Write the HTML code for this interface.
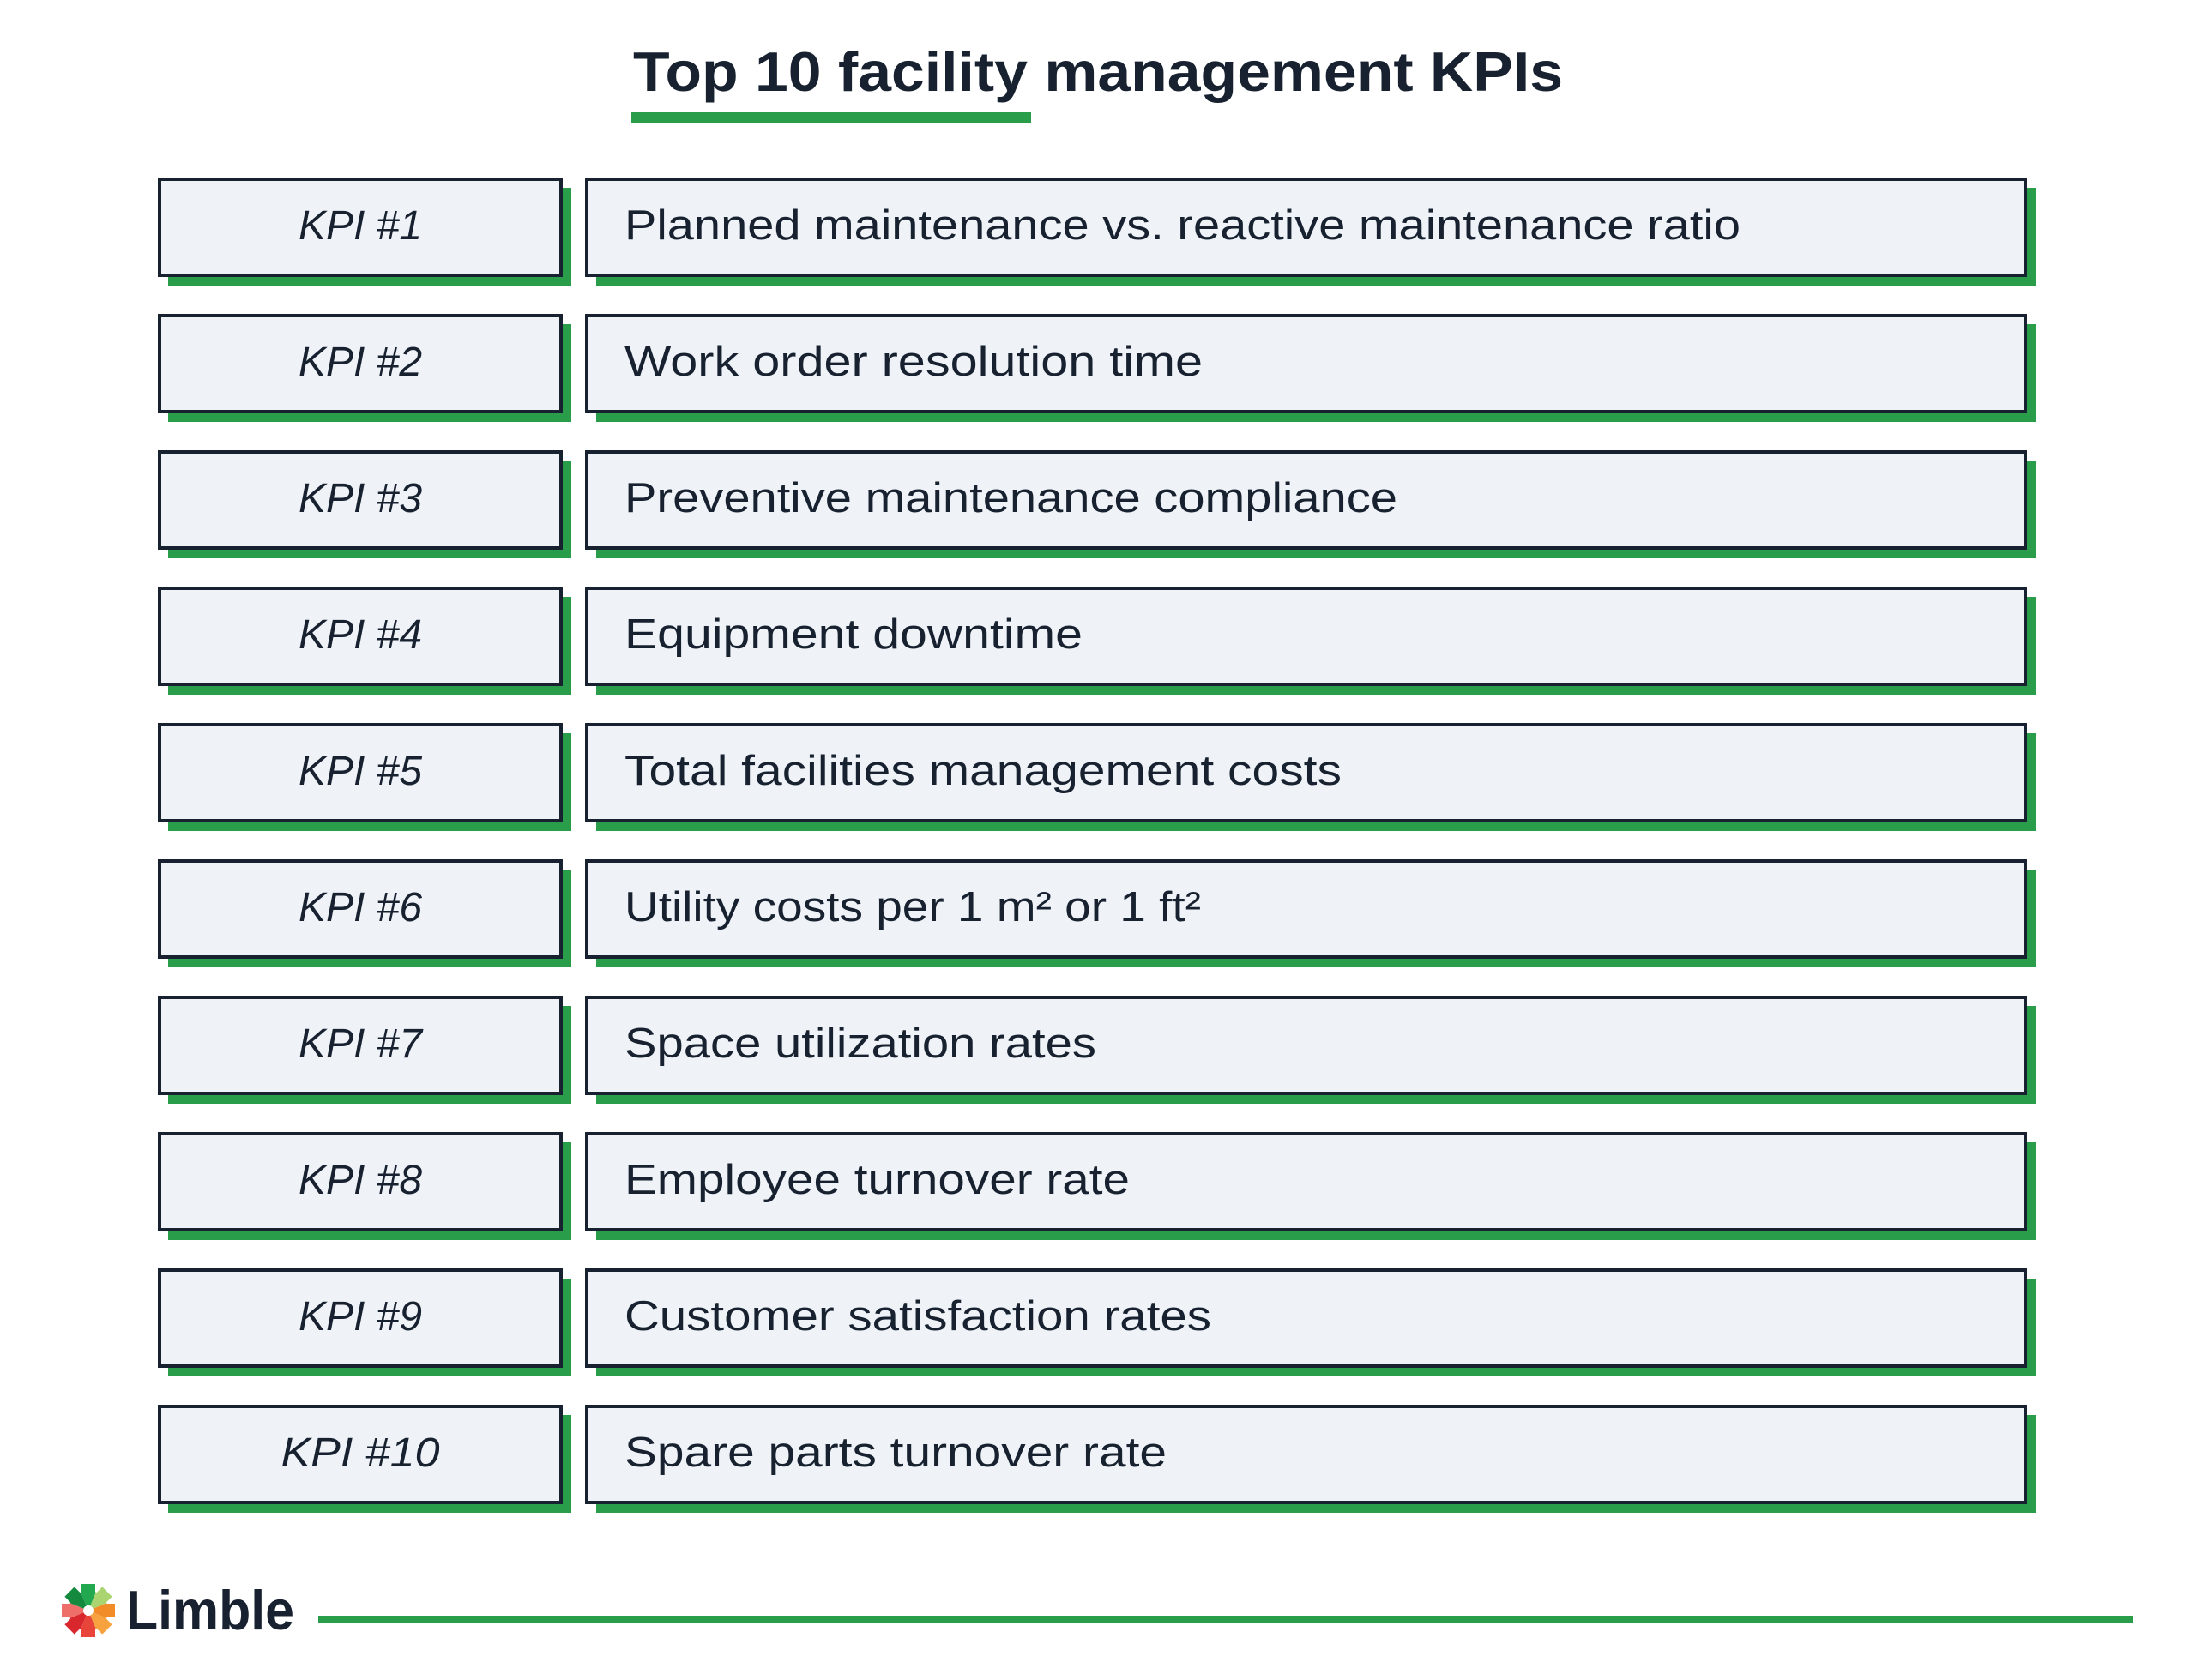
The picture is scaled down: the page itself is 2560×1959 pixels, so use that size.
<!DOCTYPE html>
<html>
<head>
<meta charset="utf-8">
<style>
html,body{margin:0;padding:0;background:#ffffff;}
svg{display:block;}
</style>
</head>
<body>
<svg width="2560" height="1959" viewBox="0 0 2560 1959" xmlns="http://www.w3.org/2000/svg">
<rect x="0" y="0" width="2560" height="1959" fill="#ffffff"/>
<!-- Title -->
<text x="738" y="106" font-family="Liberation Sans, sans-serif" font-weight="bold" font-size="65" fill="#17212f" textLength="1084" lengthAdjust="spacingAndGlyphs">Top 10 facility management KPIs</text>
<rect x="736" y="131" width="466" height="12" fill="#2a9d4b"/>

<g font-family="Liberation Sans, sans-serif" fill="#17212f">
<g transform="translate(0,0)">
<rect x="196" y="219" width="470" height="114" fill="#2a9d4b"/>
<rect x="695" y="219" width="1678" height="114" fill="#2a9d4b"/>
<rect x="186" y="209" width="468" height="112" fill="#eff3f8" stroke="#17212f" stroke-width="4"/>
<rect x="684" y="209" width="1677" height="112" fill="#eff3f8" stroke="#17212f" stroke-width="4"/>
<text x="420" y="279" font-size="48" font-style="italic" text-anchor="middle">KPI #1</text>
<text x="728" y="279" font-size="49" textLength="1301" lengthAdjust="spacingAndGlyphs">Planned maintenance vs. reactive maintenance ratio</text>
</g>
<g transform="translate(0,159)">
<rect x="196" y="219" width="470" height="114" fill="#2a9d4b"/>
<rect x="695" y="219" width="1678" height="114" fill="#2a9d4b"/>
<rect x="186" y="209" width="468" height="112" fill="#eff3f8" stroke="#17212f" stroke-width="4"/>
<rect x="684" y="209" width="1677" height="112" fill="#eff3f8" stroke="#17212f" stroke-width="4"/>
<text x="420" y="279" font-size="48" font-style="italic" text-anchor="middle">KPI #2</text>
<text x="728" y="279" font-size="49" textLength="674" lengthAdjust="spacingAndGlyphs">Work order resolution time</text>
</g>
<g transform="translate(0,318)">
<rect x="196" y="219" width="470" height="114" fill="#2a9d4b"/>
<rect x="695" y="219" width="1678" height="114" fill="#2a9d4b"/>
<rect x="186" y="209" width="468" height="112" fill="#eff3f8" stroke="#17212f" stroke-width="4"/>
<rect x="684" y="209" width="1677" height="112" fill="#eff3f8" stroke="#17212f" stroke-width="4"/>
<text x="420" y="279" font-size="48" font-style="italic" text-anchor="middle">KPI #3</text>
<text x="728" y="279" font-size="49" textLength="901" lengthAdjust="spacingAndGlyphs">Preventive maintenance compliance</text>
</g>
<g transform="translate(0,477)">
<rect x="196" y="219" width="470" height="114" fill="#2a9d4b"/>
<rect x="695" y="219" width="1678" height="114" fill="#2a9d4b"/>
<rect x="186" y="209" width="468" height="112" fill="#eff3f8" stroke="#17212f" stroke-width="4"/>
<rect x="684" y="209" width="1677" height="112" fill="#eff3f8" stroke="#17212f" stroke-width="4"/>
<text x="420" y="279" font-size="48" font-style="italic" text-anchor="middle">KPI #4</text>
<text x="728" y="279" font-size="49" textLength="534" lengthAdjust="spacingAndGlyphs">Equipment downtime</text>
</g>
<g transform="translate(0,636)">
<rect x="196" y="219" width="470" height="114" fill="#2a9d4b"/>
<rect x="695" y="219" width="1678" height="114" fill="#2a9d4b"/>
<rect x="186" y="209" width="468" height="112" fill="#eff3f8" stroke="#17212f" stroke-width="4"/>
<rect x="684" y="209" width="1677" height="112" fill="#eff3f8" stroke="#17212f" stroke-width="4"/>
<text x="420" y="279" font-size="48" font-style="italic" text-anchor="middle">KPI #5</text>
<text x="728" y="279" font-size="49" textLength="836" lengthAdjust="spacingAndGlyphs">Total facilities management costs</text>
</g>
<g transform="translate(0,795)">
<rect x="196" y="219" width="470" height="114" fill="#2a9d4b"/>
<rect x="695" y="219" width="1678" height="114" fill="#2a9d4b"/>
<rect x="186" y="209" width="468" height="112" fill="#eff3f8" stroke="#17212f" stroke-width="4"/>
<rect x="684" y="209" width="1677" height="112" fill="#eff3f8" stroke="#17212f" stroke-width="4"/>
<text x="420" y="279" font-size="48" font-style="italic" text-anchor="middle">KPI #6</text>
<text x="728" y="279" font-size="49" textLength="672" lengthAdjust="spacingAndGlyphs">Utility costs per 1 m² or 1 ft²</text>
</g>
<g transform="translate(0,954)">
<rect x="196" y="219" width="470" height="114" fill="#2a9d4b"/>
<rect x="695" y="219" width="1678" height="114" fill="#2a9d4b"/>
<rect x="186" y="209" width="468" height="112" fill="#eff3f8" stroke="#17212f" stroke-width="4"/>
<rect x="684" y="209" width="1677" height="112" fill="#eff3f8" stroke="#17212f" stroke-width="4"/>
<text x="420" y="279" font-size="48" font-style="italic" text-anchor="middle">KPI #7</text>
<text x="728" y="279" font-size="49" textLength="550" lengthAdjust="spacingAndGlyphs">Space utilization rates</text>
</g>
<g transform="translate(0,1113)">
<rect x="196" y="219" width="470" height="114" fill="#2a9d4b"/>
<rect x="695" y="219" width="1678" height="114" fill="#2a9d4b"/>
<rect x="186" y="209" width="468" height="112" fill="#eff3f8" stroke="#17212f" stroke-width="4"/>
<rect x="684" y="209" width="1677" height="112" fill="#eff3f8" stroke="#17212f" stroke-width="4"/>
<text x="420" y="279" font-size="48" font-style="italic" text-anchor="middle">KPI #8</text>
<text x="728" y="279" font-size="49" textLength="589" lengthAdjust="spacingAndGlyphs">Employee turnover rate</text>
</g>
<g transform="translate(0,1272)">
<rect x="196" y="219" width="470" height="114" fill="#2a9d4b"/>
<rect x="695" y="219" width="1678" height="114" fill="#2a9d4b"/>
<rect x="186" y="209" width="468" height="112" fill="#eff3f8" stroke="#17212f" stroke-width="4"/>
<rect x="684" y="209" width="1677" height="112" fill="#eff3f8" stroke="#17212f" stroke-width="4"/>
<text x="420" y="279" font-size="48" font-style="italic" text-anchor="middle">KPI #9</text>
<text x="728" y="279" font-size="49" textLength="684" lengthAdjust="spacingAndGlyphs">Customer satisfaction rates</text>
</g>
<g transform="translate(0,1431)">
<rect x="196" y="219" width="470" height="114" fill="#2a9d4b"/>
<rect x="695" y="219" width="1678" height="114" fill="#2a9d4b"/>
<rect x="186" y="209" width="468" height="112" fill="#eff3f8" stroke="#17212f" stroke-width="4"/>
<rect x="684" y="209" width="1677" height="112" fill="#eff3f8" stroke="#17212f" stroke-width="4"/>
<text x="420" y="279" font-size="48" font-style="italic" text-anchor="middle" textLength="185" lengthAdjust="spacingAndGlyphs">KPI #10</text>
<text x="728" y="279" font-size="49" textLength="632" lengthAdjust="spacingAndGlyphs">Spare parts turnover rate</text>
</g>
</g>

<!-- Logo gear (no clipPath) -->
<g transform="translate(103,1878)">
<!-- teeth -->
<rect x="-8" y="-31" width="16" height="12" fill="#22a94f" transform="rotate(0)"/>
<rect x="-8" y="-31" width="16" height="12" fill="#a9d46f" transform="rotate(45)"/>
<rect x="-8" y="-31" width="16" height="12" fill="#f28c28" transform="rotate(90)"/>
<rect x="-8" y="-31" width="16" height="12" fill="#f7a23e" transform="rotate(135)"/>
<rect x="-8" y="-31" width="16" height="12" fill="#e8443a" transform="rotate(180)"/>
<rect x="-8" y="-31" width="16" height="12" fill="#d9272e" transform="rotate(225)"/>
<rect x="-8" y="-31" width="16" height="12" fill="#ee6e6a" transform="rotate(270)"/>
<rect x="-8" y="-31" width="16" height="12" fill="#148a3e" transform="rotate(315)"/>
<!-- body wedges r=23 -->
<path d="M0,0 L-8.8,-21.25 A23,23 0 0 1 8.8,-21.25 Z" fill="#22a94f"/>
<path d="M0,0 L8.8,-21.25 A23,23 0 0 1 21.25,-8.8 Z" fill="#a9d46f"/>
<path d="M0,0 L21.25,-8.8 A23,23 0 0 1 21.25,8.8 Z" fill="#f28c28"/>
<path d="M0,0 L21.25,8.8 A23,23 0 0 1 8.8,21.25 Z" fill="#f7a23e"/>
<path d="M0,0 L8.8,21.25 A23,23 0 0 1 -8.8,21.25 Z" fill="#e8443a"/>
<path d="M0,0 L-8.8,21.25 A23,23 0 0 1 -21.25,8.8 Z" fill="#d9272e"/>
<path d="M0,0 L-21.25,8.8 A23,23 0 0 1 -21.25,-8.8 Z" fill="#ee6e6a"/>
<path d="M0,0 L-21.25,-8.8 A23,23 0 0 1 -8.8,-21.25 Z" fill="#148a3e"/>
<circle cx="0" cy="0" r="6" fill="#ffffff"/>
</g>
<text x="147" y="1900" font-family="Liberation Sans, sans-serif" font-weight="bold" font-size="65" fill="#17212f" textLength="196" lengthAdjust="spacingAndGlyphs">Limble</text>

<!-- Footer line -->
<rect x="371" y="1884" width="2115" height="9" fill="#2a9d4b"/>
</svg>
</body>
</html>
